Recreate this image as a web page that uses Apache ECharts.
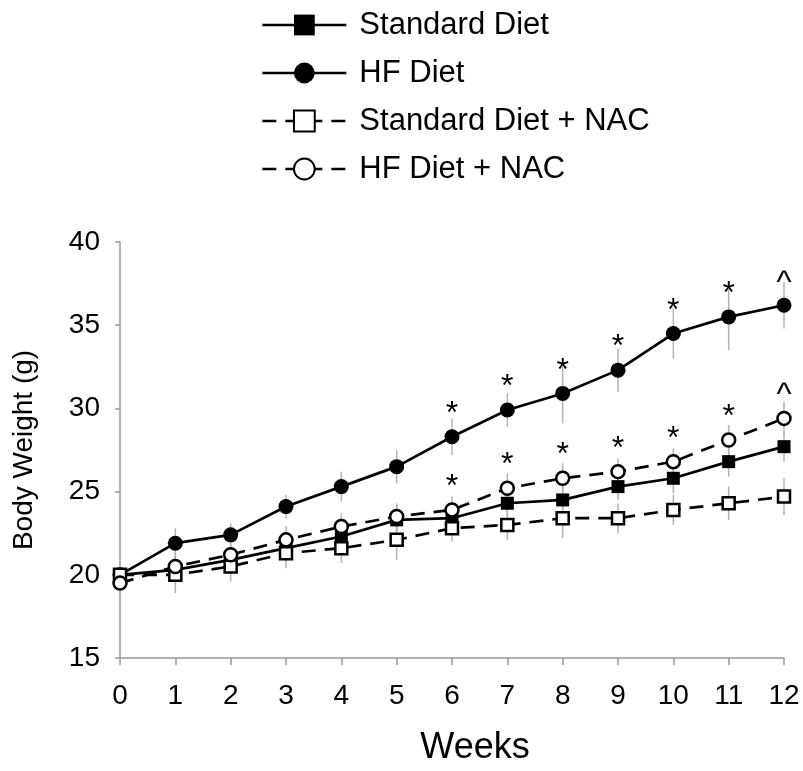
<!DOCTYPE html>
<html>
<head>
<meta charset="utf-8">
<script src="https://cdn.jsdelivr.net/npm/echarts@6/dist/echarts.min.js"></script>
<style>
html,body{margin:0;padding:0;background:#fff}
#main{width:803px;height:771px}
</style>
</head>
<body>
<div id="main"></div>
<script>
// body weight per week
var weeks = [0, 1, 2, 3, 4, 5, 6, 7, 8, 9, 10, 11, 12];

var stdDiet    = [20.0, 20.3, 20.9, 21.6, 22.3, 23.3, 23.4, 24.3, 24.5, 25.3, 25.8, 26.8, 27.7];
var stdDietErr = [0.5, 0.8, 0.8, 0.8, 0.8, 0.9, 0.8, 0.8, 0.9, 0.8, 0.9, 0.9, 0.9];

var hfDiet     = [20.0, 21.9, 22.4, 24.1, 25.3, 26.5, 28.3, 29.9, 30.9, 32.3, 34.5, 35.5, 36.2];
var hfDietErr  = [0.5, 0.9, 0.7, 0.7, 0.9, 1.0, 1.1, 1.0, 1.8, 1.3, 1.5, 2.0, 1.4];
var hfDietSig  = ['', '', '', '', '', '', '*', '*', '*', '*', '*', '*', '^'];

var stdNac     = [20.0, 20.0, 20.5, 21.3, 21.6, 22.1, 22.8, 23.0, 23.4, 23.4, 23.9, 24.3, 24.7];
var stdNacErr  = [0.4, 1.1, 0.9, 0.9, 0.9, 1.2, 0.8, 0.9, 1.2, 0.9, 0.9, 1.0, 1.1];

var hfNac      = [19.5, 20.5, 21.2, 22.1, 22.9, 23.5, 23.9, 25.2, 25.8, 26.2, 26.8, 28.1, 29.4];
var hfNacErr   = [1.0, 0.8, 0.7, 0.8, 0.8, 0.8, 0.8, 0.9, 0.9, 0.8, 0.8, 0.9, 1.0];
var hfNacSig   = ['', '', '', '', '', '', '*', '*', '*', '*', '*', '*', '^'];

var FONT = 'Liberation Sans, Arial, sans-serif';

function errBars(name, vals, errs) {
	return {
		type: 'custom',
		name: name + ' err',
		silent: true,
		z: 1,
		encode: {x: 0, y: [1, 2]},
		data: weeks.map(function(w, i) { return [w, vals[i] - errs[i], vals[i] + errs[i]]; }),
		renderItem: function(params, api) {
			var lo = api.coord([api.value(0), api.value(1)]);
			var hi = api.coord([api.value(0), api.value(2)]);
			return {
				type: 'line',
				shape: {x1: lo[0], y1: lo[1], x2: hi[0], y2: hi[1]},
				style: {stroke: '#b3b3b3', lineWidth: 1.5}
			};
		}
	};
}

function lineSeries(name, vals, sig, symbol, size, filled, dashed) {
	return {
		type: 'line',
		name: name,
		z: 3,
		symbol: symbol,
		symbolSize: size,
		showAllSymbol: true,
		data: weeks.map(function(w, i) {
			var item = {value: [w, vals[i]]};
			if (sig && sig[i]) {
				item.label = {show: true, formatter: sig[i]};
			}
			return item;
		}),
		lineStyle: {color: '#000', width: 2.7, type: dashed ? [14, 9] : 'solid'},
		itemStyle: filled ? {color: '#000'} : {color: '#fff', borderColor: '#000', borderWidth: 2.5},
		label: {show: false, position: 'top', distance: -1, color: '#000', fontSize: 32, fontFamily: FONT},
		emphasis: {disabled: true}
	};
}

var option = {
	animation: false,
	backgroundColor: '#fff',
	legend: {
		orient: 'vertical',
		left: 256,
		top: 2,
		itemWidth: 84,
		itemHeight: 26,
		itemGap: 12,
		data: ['Standard Diet', 'HF Diet', 'Standard Diet + NAC', 'HF Diet + NAC'],
		lineStyle: {width: 2.7},
		textStyle: {color: '#000', fontSize: 31, fontFamily: FONT, lineHeight: 36, padding: [0, 0, 0, 8]}
	},
	grid: {left: 120, right: 19, top: 242, bottom: 113},
	xAxis: {
		type: 'value',
		min: 0,
		max: 12,
		interval: 1,
		name: 'Weeks',
		nameLocation: 'middle',
		nameGap: 72,
		nameTextStyle: {color: '#000', fontSize: 36, fontFamily: FONT, padding: [0, 0, 0, 46]},
		axisLine: {lineStyle: {color: '#999', width: 1.5}},
		axisTick: {show: true, length: 7, lineStyle: {color: '#999', width: 1.5}},
		axisLabel: {color: '#000', fontSize: 28, fontFamily: FONT, margin: 24},
		splitLine: {show: false}
	},
	yAxis: {
		type: 'value',
		min: 15,
		max: 40,
		interval: 5,
		name: 'Body Weight (g)',
		nameLocation: 'middle',
		nameRotate: 90,
		nameGap: 82,
		nameTextStyle: {color: '#000', fontSize: 28, fontFamily: FONT},
		axisLine: {show: true, lineStyle: {color: '#999', width: 1.5}},
		axisTick: {show: true, length: 5, lineStyle: {color: '#999', width: 1.5}},
		axisLabel: {color: '#000', fontSize: 28, fontFamily: FONT, margin: 20},
		splitLine: {show: false}
	},
	series: [
		errBars('Standard Diet', stdDiet, stdDietErr),
		errBars('HF Diet', hfDiet, hfDietErr),
		errBars('Standard Diet + NAC', stdNac, stdNacErr),
		errBars('HF Diet + NAC', hfNac, hfNacErr),
		lineSeries('Standard Diet', stdDiet, null, 'rect', 13, true, false),
		lineSeries('HF Diet', hfDiet, hfDietSig, 'circle', 15, true, false),
		lineSeries('Standard Diet + NAC', stdNac, null, 'rect', 12, false, true),
		lineSeries('HF Diet + NAC', hfNac, hfNacSig, 'circle', 13, false, true)
	]
};

var myChart = echarts.init(document.getElementById('main'));
myChart.setOption(option);
</script>
</body>
</html>
